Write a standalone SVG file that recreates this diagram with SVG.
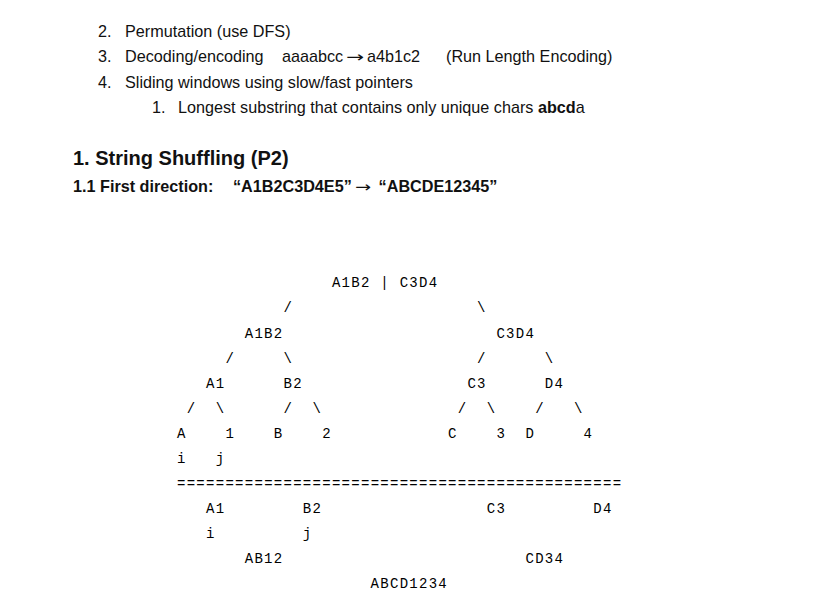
<svg xmlns="http://www.w3.org/2000/svg" width="835" height="610" viewBox="0 0 835 610">
<style>
text{fill:#111}
.s{font-family:"Liberation Sans",Arial,sans-serif;font-size:16.2px}
.b{font-weight:bold}
.ar{font-family:"DejaVu Sans",sans-serif;font-weight:normal;font-size:15px}
.h{font-family:"Liberation Sans",Arial,sans-serif;font-size:20px;font-weight:bold}
.m{font-family:"Liberation Mono","Courier New",monospace;font-size:14px;letter-spacing:1.28px;fill:#000}
</style>
<rect width="835" height="610" fill="#fff"/>
<g id="list">
<text class="s" x="98" y="36.5">2.</text><text class="s" x="125" y="36.5">Permutation (use DFS)</text>
<text class="s" x="98" y="62">3.</text><text class="s" x="125" y="62">Decoding/encoding</text>
<text class="s" x="282" y="62">aaaabcc</text>
<text class="ar" x="346" y="62" textLength="18" lengthAdjust="spacingAndGlyphs">→</text>
<text class="s" x="367" y="62">a4b1c2</text>
<text class="s" x="446" y="62">(Run Length Encoding)</text>
<text class="s" x="98" y="87.5">4.</text><text class="s" x="125" y="87.5">Sliding windows using slow/fast pointers</text>
<text class="s" x="152" y="113">1.</text><text class="s" x="178" y="113">Longest substring that contains only unique chars <tspan class="b">abcd</tspan>a</text>
</g>
<g id="heading">
<text class="h" x="73" y="165">1. String Shuffling (P2)</text>
<text class="s b" x="73" y="192">1.1 First direction:</text>
<text class="s b" x="233" y="192">“A1B2C3D4E5”</text>
<text class="ar" x="355" y="192" textLength="16" lengthAdjust="spacingAndGlyphs">→</text>
<text class="s b" x="378.6" y="192">“ABCDE12345”</text>
</g>
<g id="node-root"><text class="m" x="331.88" y="287.3">A1B2 | C3D4</text></g>
<g id="node-A1B2"><text class="m" x="244.76" y="337.5">A1B2</text></g>
<g id="node-C3D4"><text class="m" x="496.44" y="337.5">C3D4</text></g>
<g id="node-A1"><text class="m" x="206.04" y="387.6">A1</text></g>
<g id="node-B2"><text class="m" x="283.48" y="387.6">B2</text></g>
<g id="node-C3"><text class="m" x="467.4" y="387.6">C3</text></g>
<g id="node-D4"><text class="m" x="544.84" y="387.6">D4</text></g>
<g id="leaves">
<text class="m" x="177" y="437.8">A</text><text class="m" x="225.4" y="437.8">1</text>
<text class="m" x="273.8" y="437.8">B</text><text class="m" x="322.2" y="437.8">2</text>
<text class="m" x="448.04" y="437.8">C</text><text class="m" x="496.44" y="437.8">3</text>
<text class="m" x="525.48" y="437.8">D</text><text class="m" x="583.56" y="437.8">4</text>
</g>
<g id="pointers-1">
<text class="m" x="177" y="462.9">i</text><text class="m" x="215.72" y="462.9">j</text>
</g>
<g id="connectors">
<text class="m" x="283.48" y="312.4">/</text><text class="m" x="477.08" y="312.4">\</text>
<text class="m" x="225.4" y="362.5">/</text><text class="m" x="283.48" y="362.5">\</text>
<text class="m" x="477.08" y="362.5">/</text><text class="m" x="544.84" y="362.5">\</text>
<text class="m" x="186.68" y="412.7">/</text><text class="m" x="215.72" y="412.7">\</text>
<text class="m" x="283.48" y="412.7">/</text><text class="m" x="312.52" y="412.7">\</text>
<text class="m" x="457.72" y="412.7">/</text><text class="m" x="486.76" y="412.7">\</text>
<text class="m" x="535.16" y="412.7">/</text><text class="m" x="573.88" y="412.7">\</text>
</g>
<g id="separator"><text class="m" x="177" y="487.9">==============================================</text></g>
<g id="merge">
<text class="m" x="206.04" y="513">A1</text><text class="m" x="302.84" y="513">B2</text>
<text class="m" x="486.76" y="513">C3</text><text class="m" x="593.24" y="513">D4</text>
<text class="m" x="206.04" y="538.1">i</text><text class="m" x="302.84" y="538.1">j</text>
<text class="m" x="244.76" y="563.2">AB12</text><text class="m" x="525.48" y="563.2">CD34</text>
<text class="m" x="370.6" y="588.3">ABCD1234</text>
</g>
</svg>
